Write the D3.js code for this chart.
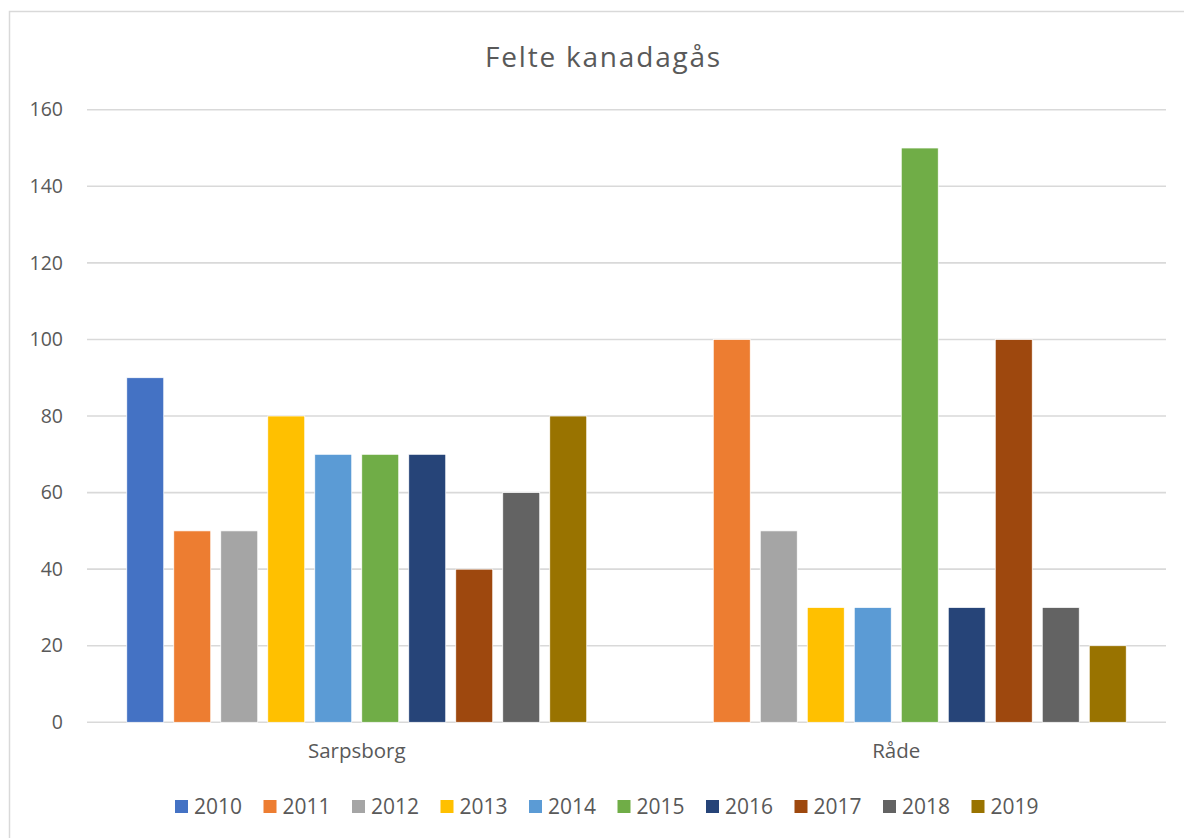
<!DOCTYPE html>
<html>
<head>
<meta charset="utf-8">
<script src="https://cdn.jsdelivr.net/npm/d3@7"></script>
<style>
  body { margin: 0; background: #fff; }
  text { font-family: "Open Sans", "Noto Sans", sans-serif; fill: #595959; }
</style>
</head>
<body>
<div id="chart"></div>
<script>
// Data
const categories = ["Sarpsborg", "Råde"];
const years = ["2010", "2011", "2012", "2013", "2014", "2015", "2016", "2017", "2018", "2019"];
const sarpsborg = [90, 50, 50, 80, 70, 70, 70, 40, 60, 80];
const rade      = [null, 100, 50, 30, 30, 150, 30, 100, 30, 20];
const yTicks = [0, 20, 40, 60, 80, 100, 120, 140, 160];
const colors = ["#4472C4", "#ED7D31", "#A5A5A5", "#FFC000", "#5B9BD5",
                "#70AD47", "#264478", "#9E480E", "#636363", "#997300"];

const seriesByCat = { "Sarpsborg": sarpsborg, "Råde": rade };

const W = 1184, H = 838;
const plot = { left: 87, right: 1166, top: 109.7, bottom: 722.3 };

const svg = d3.select("#chart").append("svg")
    .attr("width", W)
    .attr("height", H);

// chart area border (right/bottom edges run off the picture)
svg.append("rect")
    .attr("x", 9.5).attr("y", 11.5)
    .attr("width", W + 20).attr("height", H + 20)
    .attr("fill", "#fff")
    .attr("stroke", "#d9d9d9")
    .attr("stroke-width", 1.5);

// title
svg.append("text")
    .attr("x", 603.5).attr("y", 67)
    .attr("text-anchor", "middle")
    .attr("font-size", 28)
    .attr("letter-spacing", 1.8)
    .text("Felte kanadagås");

// scales
const x0 = d3.scaleBand()
    .domain(categories)
    .range([plot.left, plot.right])
    .padding(0);

const x1 = d3.scaleBand()
    .domain(years)
    .range([0, x0.bandwidth()])
    .paddingInner(0.2128)
    .paddingOuter(0.846);

const y = d3.scaleLinear()
    .domain([0, 160])
    .range([plot.bottom, plot.top]);

// gridlines
svg.append("g")
    .selectAll("line")
    .data(yTicks)
    .join("line")
    .attr("x1", plot.left).attr("x2", plot.right)
    .attr("y1", d => y(d)).attr("y2", d => y(d))
    .attr("stroke", "#d9d9d9")
    .attr("stroke-width", 1.6);

// y axis labels
const yAxis = svg.append("g")
    .attr("transform", `translate(${plot.left - 24},0)`)
    .call(d3.axisLeft(y).tickValues(yTicks).tickSize(0).tickPadding(0));
yAxis.select(".domain").remove();
yAxis.selectAll("text")
    .attr("font-size", 19.5)
    .attr("font-family", "Open Sans, Noto Sans, sans-serif")
    .attr("fill", "#595959");

// bars
const groups = svg.append("g")
    .selectAll("g")
    .data(categories)
    .join("g")
    .attr("transform", d => `translate(${x0(d)},0)`);

groups.selectAll("rect")
    .data(c => years.map((yr, i) => ({ year: yr, i: i, value: seriesByCat[c][i] }))
        .filter(d => d.value != null))
    .join("rect")
    .attr("x", d => x1(d.year))
    .attr("y", d => y(d.value))
    .attr("width", x1.bandwidth())
    .attr("height", d => y(0) - y(d.value))
    .attr("fill", d => colors[d.i])
    .attr("stroke", "#fff")
    .attr("stroke-width", 0.75);

// category labels
const xAxis = svg.append("g")
    .attr("transform", `translate(0,${plot.bottom})`)
    .call(d3.axisBottom(x0).tickSize(0).tickPadding(21));
xAxis.select(".domain").remove();
xAxis.selectAll("text")
    .attr("font-size", 20.5)
    .attr("font-family", "Open Sans, Noto Sans, sans-serif")
    .attr("fill", "#595959");

// legend
const legend = svg.append("g")
    .selectAll("g")
    .data(years)
    .join("g")
    .attr("transform", (d, i) => `translate(${175 + i * 88.5},800)`);

legend.append("rect")
    .attr("width", 13).attr("height", 13)
    .attr("fill", (d, i) => colors[i]);

legend.append("text")
    .attr("x", 19).attr("y", 13.5)
    .attr("font-size", 21)
    .text(d => d);
</script>
</body>
</html>
